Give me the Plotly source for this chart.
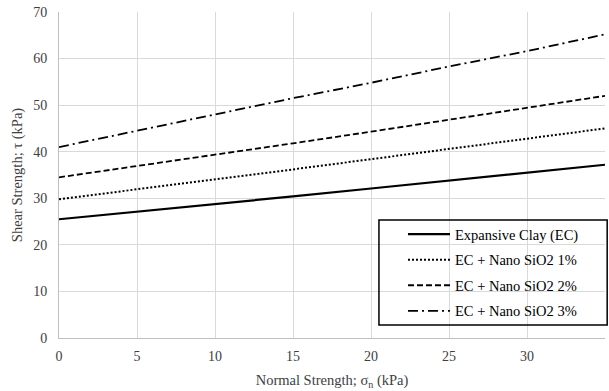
import plotly.graph_objects as go

normal_stress = [0, 5, 10, 15, 20, 25, 30, 35]
ec = [25.5, 27.1, 28.7, 30.4, 32.1, 33.8, 35.5, 37.2]
ec_1 = [29.8, 31.9, 34.0, 36.2, 38.4, 40.6, 42.8, 45.0]
ec_2 = [34.5, 36.9, 39.3, 41.8, 44.3, 46.9, 49.4, 52.0]
ec_3 = [41.0, 44.5, 48.0, 51.5, 54.8, 58.3, 61.6, 65.2]
names = ["Expansive Clay (EC)", "EC + Nano SiO2 1%", "EC + Nano SiO2 2%", "EC + Nano SiO2 3%"]

series = [ec, ec_1, ec_2, ec_3]
dashes = ["solid", "2px,2px", "6px,3px", "10px,4px,2px,4px"]
widths = [2.2, 2, 1.8, 1.8]

fig = go.Figure()
for i, (ys, nm) in enumerate(zip(series, names)):
    fig.add_trace(go.Scatter(
        x=normal_stress, y=ys, name=nm, mode="lines",
        line=dict(color="black", width=widths[i], dash=dashes[i]),
        legendgroup=f"g{i}",
    ))

font = "Liberation Serif"
fig.update_layout(
    width=609, height=391,
    margin=dict(l=59, r=4, t=12, b=53),
    paper_bgcolor="white", plot_bgcolor="white",
    font=dict(family=font, size=14, color="#404040"),
    showlegend=True,
    legend=dict(
        x=0.630, xanchor="left", y=0.033, yanchor="bottom",
        borderwidth=0, bgcolor="rgba(0,0,0,0)",
        font=dict(family=font, size=14.5, color="black"),
        tracegroupgap=3.7, traceorder="grouped",
        itemwidth=42,
    ),
    shapes=[dict(
        type="rect", xref="paper", yref="paper",
        x0=0.586, x1=1.004, y0=0.04, y1=0.362,
        line=dict(color="black", width=1.5), fillcolor="rgba(0,0,0,0)",
        layer="above",
    )],
    xaxis=dict(
        range=[0, 35], dtick=5, tick0=0,
        showgrid=True, gridcolor="#d9d9d9", gridwidth=1,
        showline=True, linecolor="#bfbfbf", linewidth=1,
        ticks="", zeroline=False, automargin=False,
        ticklabelstandoff=5,
        tickfont=dict(family=font, size=14, color="#404040"),
        title=dict(text="Normal Strength; σ<sub>n</sub> (kPa)", standoff=12,
                   font=dict(family=font, size=14.5, color="#404040")),
    ),
    yaxis=dict(
        range=[0, 70], dtick=10, tick0=0,
        showgrid=True, gridcolor="#d9d9d9", gridwidth=1,
        showline=True, linecolor="#bfbfbf", linewidth=1,
        ticks="", zeroline=False, automargin=False,
        ticklabelstandoff=8,
        tickfont=dict(family=font, size=14, color="#404040"),
        title=dict(text="Shear Strength; τ (kPa)", standoff=7,
                   font=dict(family=font, size=14.5, color="#404040")),
    ),
)

fig.write_html("out.html", config={"displayModeBar": False},
               post_script="document.body.style.margin='0';")
